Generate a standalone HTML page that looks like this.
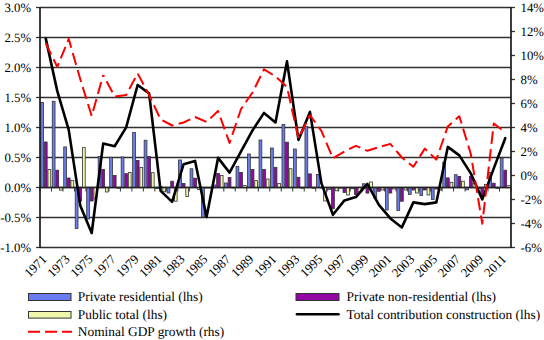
<!DOCTYPE html><html><head><meta charset="utf-8"><style>
html,body{margin:0;padding:0;background:#fff;}
svg{display:block;}
text{font-family:"Liberation Serif",serif;fill:#000;text-rendering:geometricPrecision;}
</style></head><body>
<svg width="544" height="340" viewBox="0 0 544 340">
<rect x="0" y="0" width="544" height="340" fill="#fff"/>
<line x1="40.0" y1="7.5" x2="511.0" y2="7.5" stroke="#303030" stroke-width="1.4"/>
<line x1="36" y1="7.5" x2="40.0" y2="7.5" stroke="#333" stroke-width="1.3"/>
<line x1="40.0" y1="37.5" x2="511.0" y2="37.5" stroke="#303030" stroke-width="1.4"/>
<line x1="36" y1="37.5" x2="40.0" y2="37.5" stroke="#333" stroke-width="1.3"/>
<line x1="40.0" y1="67.5" x2="511.0" y2="67.5" stroke="#303030" stroke-width="1.4"/>
<line x1="36" y1="67.5" x2="40.0" y2="67.5" stroke="#333" stroke-width="1.3"/>
<line x1="40.0" y1="97.5" x2="511.0" y2="97.5" stroke="#303030" stroke-width="1.4"/>
<line x1="36" y1="97.5" x2="40.0" y2="97.5" stroke="#333" stroke-width="1.3"/>
<line x1="40.0" y1="127.5" x2="511.0" y2="127.5" stroke="#303030" stroke-width="1.4"/>
<line x1="36" y1="127.5" x2="40.0" y2="127.5" stroke="#333" stroke-width="1.3"/>
<line x1="40.0" y1="157.5" x2="511.0" y2="157.5" stroke="#303030" stroke-width="1.4"/>
<line x1="36" y1="157.5" x2="40.0" y2="157.5" stroke="#333" stroke-width="1.3"/>
<line x1="40.0" y1="187.5" x2="511.0" y2="187.5" stroke="#303030" stroke-width="1.4"/>
<line x1="36" y1="187.5" x2="40.0" y2="187.5" stroke="#333" stroke-width="1.3"/>
<line x1="40.0" y1="217.5" x2="511.0" y2="217.5" stroke="#303030" stroke-width="1.4"/>
<line x1="36" y1="217.5" x2="40.0" y2="217.5" stroke="#333" stroke-width="1.3"/>
<line x1="40.0" y1="247.5" x2="511.0" y2="247.5" stroke="#303030" stroke-width="1.4"/>
<line x1="36" y1="247.5" x2="40.0" y2="247.5" stroke="#333" stroke-width="1.3"/>
<line x1="511.0" y1="7.5" x2="515" y2="7.5" stroke="#333" stroke-width="1.3"/>
<line x1="511.0" y1="31.5" x2="515" y2="31.5" stroke="#333" stroke-width="1.3"/>
<line x1="511.0" y1="55.5" x2="515" y2="55.5" stroke="#333" stroke-width="1.3"/>
<line x1="511.0" y1="79.5" x2="515" y2="79.5" stroke="#333" stroke-width="1.3"/>
<line x1="511.0" y1="103.5" x2="515" y2="103.5" stroke="#333" stroke-width="1.3"/>
<line x1="511.0" y1="127.5" x2="515" y2="127.5" stroke="#333" stroke-width="1.3"/>
<line x1="511.0" y1="151.5" x2="515" y2="151.5" stroke="#333" stroke-width="1.3"/>
<line x1="511.0" y1="175.5" x2="515" y2="175.5" stroke="#333" stroke-width="1.3"/>
<line x1="511.0" y1="199.5" x2="515" y2="199.5" stroke="#333" stroke-width="1.3"/>
<line x1="511.0" y1="223.5" x2="515" y2="223.5" stroke="#333" stroke-width="1.3"/>
<line x1="511.0" y1="247.5" x2="515" y2="247.5" stroke="#333" stroke-width="1.3"/>
<rect x="40.75" y="102.50" width="2.80" height="85.00" fill="#6a7cf2" stroke="#333333" stroke-width="0.8"/>
<rect x="44.35" y="142.00" width="2.80" height="45.50" fill="#9306a6" stroke="#333333" stroke-width="0.8"/>
<rect x="47.95" y="169.50" width="2.80" height="18.00" fill="#eff8aa" stroke="#333333" stroke-width="0.8"/>
<rect x="52.24" y="101.25" width="2.80" height="86.25" fill="#6a7cf2" stroke="#333333" stroke-width="0.8"/>
<rect x="55.84" y="170.20" width="2.80" height="17.30" fill="#9306a6" stroke="#333333" stroke-width="0.8"/>
<rect x="59.44" y="187.50" width="2.80" height="2.60" fill="#eff8aa" stroke="#333333" stroke-width="0.8"/>
<rect x="63.73" y="146.90" width="2.80" height="40.60" fill="#6a7cf2" stroke="#333333" stroke-width="0.8"/>
<rect x="67.33" y="178.00" width="2.80" height="9.50" fill="#9306a6" stroke="#333333" stroke-width="0.8"/>
<rect x="70.93" y="180.30" width="2.80" height="7.20" fill="#eff8aa" stroke="#333333" stroke-width="0.8"/>
<rect x="75.21" y="187.50" width="2.80" height="41.00" fill="#6a7cf2" stroke="#333333" stroke-width="0.8"/>
<rect x="78.81" y="187.50" width="2.80" height="13.50" fill="#9306a6" stroke="#333333" stroke-width="0.8"/>
<rect x="82.41" y="147.60" width="2.80" height="39.90" fill="#eff8aa" stroke="#333333" stroke-width="0.8"/>
<rect x="86.70" y="187.50" width="2.80" height="31.50" fill="#6a7cf2" stroke="#333333" stroke-width="0.8"/>
<rect x="90.30" y="187.50" width="2.80" height="13.50" fill="#9306a6" stroke="#333333" stroke-width="0.8"/>
<rect x="93.90" y="187.50" width="2.80" height="11.50" fill="#eff8aa" stroke="#333333" stroke-width="0.8"/>
<rect x="98.19" y="156.50" width="2.80" height="31.00" fill="#6a7cf2" stroke="#333333" stroke-width="0.8"/>
<rect x="101.79" y="169.50" width="2.80" height="18.00" fill="#9306a6" stroke="#333333" stroke-width="0.8"/>
<rect x="105.39" y="187.50" width="2.80" height="4.50" fill="#eff8aa" stroke="#333333" stroke-width="0.8"/>
<rect x="109.68" y="157.30" width="2.80" height="30.20" fill="#6a7cf2" stroke="#333333" stroke-width="0.8"/>
<rect x="113.28" y="175.50" width="2.80" height="12.00" fill="#9306a6" stroke="#333333" stroke-width="0.8"/>
<rect x="116.88" y="187.50" width="2.80" height="0.70" fill="#eff8aa" stroke="#333333" stroke-width="0.8"/>
<rect x="121.16" y="157.00" width="2.80" height="30.50" fill="#6a7cf2" stroke="#333333" stroke-width="0.8"/>
<rect x="124.76" y="173.70" width="2.80" height="13.80" fill="#9306a6" stroke="#333333" stroke-width="0.8"/>
<rect x="128.36" y="172.40" width="2.80" height="15.10" fill="#eff8aa" stroke="#333333" stroke-width="0.8"/>
<rect x="132.65" y="132.50" width="2.80" height="55.00" fill="#6a7cf2" stroke="#333333" stroke-width="0.8"/>
<rect x="136.25" y="160.50" width="2.80" height="27.00" fill="#9306a6" stroke="#333333" stroke-width="0.8"/>
<rect x="139.85" y="167.40" width="2.80" height="20.10" fill="#eff8aa" stroke="#333333" stroke-width="0.8"/>
<rect x="144.14" y="140.25" width="2.80" height="47.25" fill="#6a7cf2" stroke="#333333" stroke-width="0.8"/>
<rect x="147.74" y="156.50" width="2.80" height="31.00" fill="#9306a6" stroke="#333333" stroke-width="0.8"/>
<rect x="151.34" y="172.70" width="2.80" height="14.80" fill="#eff8aa" stroke="#333333" stroke-width="0.8"/>
<rect x="155.63" y="187.50" width="2.80" height="1.00" fill="#6a7cf2" stroke="#333333" stroke-width="0.8"/>
<rect x="159.23" y="186.50" width="2.80" height="1.00" fill="#9306a6" stroke="#333333" stroke-width="0.8"/>
<rect x="162.83" y="187.50" width="2.80" height="4.30" fill="#eff8aa" stroke="#333333" stroke-width="0.8"/>
<rect x="167.12" y="187.50" width="2.80" height="5.50" fill="#6a7cf2" stroke="#333333" stroke-width="0.8"/>
<rect x="170.72" y="181.20" width="2.80" height="6.30" fill="#9306a6" stroke="#333333" stroke-width="0.8"/>
<rect x="174.32" y="187.50" width="2.80" height="13.70" fill="#eff8aa" stroke="#333333" stroke-width="0.8"/>
<rect x="178.60" y="160.00" width="2.80" height="27.50" fill="#6a7cf2" stroke="#333333" stroke-width="0.8"/>
<rect x="182.20" y="183.50" width="2.80" height="4.00" fill="#9306a6" stroke="#333333" stroke-width="0.8"/>
<rect x="185.80" y="187.50" width="2.80" height="8.90" fill="#eff8aa" stroke="#333333" stroke-width="0.8"/>
<rect x="190.09" y="168.75" width="2.80" height="18.75" fill="#6a7cf2" stroke="#333333" stroke-width="0.8"/>
<rect x="193.69" y="178.20" width="2.80" height="9.30" fill="#9306a6" stroke="#333333" stroke-width="0.8"/>
<rect x="197.29" y="187.50" width="2.80" height="2.00" fill="#eff8aa" stroke="#333333" stroke-width="0.8"/>
<rect x="201.58" y="187.50" width="2.80" height="29.50" fill="#6a7cf2" stroke="#333333" stroke-width="0.8"/>
<rect x="205.18" y="187.50" width="2.80" height="0.50" fill="#9306a6" stroke="#333333" stroke-width="0.8"/>
<rect x="208.78" y="187.50" width="2.80" height="0.50" fill="#eff8aa" stroke="#333333" stroke-width="0.8"/>
<rect x="213.07" y="185.00" width="2.80" height="2.50" fill="#6a7cf2" stroke="#333333" stroke-width="0.8"/>
<rect x="216.67" y="173.50" width="2.80" height="14.00" fill="#9306a6" stroke="#333333" stroke-width="0.8"/>
<rect x="220.27" y="175.50" width="2.80" height="12.00" fill="#eff8aa" stroke="#333333" stroke-width="0.8"/>
<rect x="224.55" y="183.00" width="2.80" height="4.50" fill="#6a7cf2" stroke="#333333" stroke-width="0.8"/>
<rect x="228.15" y="177.50" width="2.80" height="10.00" fill="#9306a6" stroke="#333333" stroke-width="0.8"/>
<rect x="231.75" y="187.50" width="2.80" height="0.50" fill="#eff8aa" stroke="#333333" stroke-width="0.8"/>
<rect x="236.04" y="166.50" width="2.80" height="21.00" fill="#6a7cf2" stroke="#333333" stroke-width="0.8"/>
<rect x="239.64" y="172.50" width="2.80" height="15.00" fill="#9306a6" stroke="#333333" stroke-width="0.8"/>
<rect x="243.24" y="185.60" width="2.80" height="1.90" fill="#eff8aa" stroke="#333333" stroke-width="0.8"/>
<rect x="247.53" y="154.00" width="2.80" height="33.50" fill="#6a7cf2" stroke="#333333" stroke-width="0.8"/>
<rect x="251.13" y="169.40" width="2.80" height="18.10" fill="#9306a6" stroke="#333333" stroke-width="0.8"/>
<rect x="254.73" y="180.60" width="2.80" height="6.90" fill="#eff8aa" stroke="#333333" stroke-width="0.8"/>
<rect x="259.02" y="140.00" width="2.80" height="47.50" fill="#6a7cf2" stroke="#333333" stroke-width="0.8"/>
<rect x="262.62" y="169.40" width="2.80" height="18.10" fill="#9306a6" stroke="#333333" stroke-width="0.8"/>
<rect x="266.22" y="179.00" width="2.80" height="8.50" fill="#eff8aa" stroke="#333333" stroke-width="0.8"/>
<rect x="270.51" y="148.00" width="2.80" height="39.50" fill="#6a7cf2" stroke="#333333" stroke-width="0.8"/>
<rect x="274.11" y="167.30" width="2.80" height="20.20" fill="#9306a6" stroke="#333333" stroke-width="0.8"/>
<rect x="277.71" y="183.40" width="2.80" height="4.10" fill="#eff8aa" stroke="#333333" stroke-width="0.8"/>
<rect x="281.99" y="124.50" width="2.80" height="63.00" fill="#6a7cf2" stroke="#333333" stroke-width="0.8"/>
<rect x="285.59" y="142.20" width="2.80" height="45.30" fill="#9306a6" stroke="#333333" stroke-width="0.8"/>
<rect x="289.19" y="168.70" width="2.80" height="18.80" fill="#eff8aa" stroke="#333333" stroke-width="0.8"/>
<rect x="293.48" y="149.00" width="2.80" height="38.50" fill="#6a7cf2" stroke="#333333" stroke-width="0.8"/>
<rect x="297.08" y="177.30" width="2.80" height="10.20" fill="#9306a6" stroke="#333333" stroke-width="0.8"/>
<rect x="300.68" y="187.50" width="2.80" height="0.70" fill="#eff8aa" stroke="#333333" stroke-width="0.8"/>
<rect x="304.97" y="126.50" width="2.80" height="61.00" fill="#6a7cf2" stroke="#333333" stroke-width="0.8"/>
<rect x="308.57" y="173.90" width="2.80" height="13.60" fill="#9306a6" stroke="#333333" stroke-width="0.8"/>
<rect x="312.17" y="187.50" width="2.80" height="0.70" fill="#eff8aa" stroke="#333333" stroke-width="0.8"/>
<rect x="316.46" y="174.50" width="2.80" height="13.00" fill="#6a7cf2" stroke="#333333" stroke-width="0.8"/>
<rect x="320.06" y="187.50" width="2.80" height="0.50" fill="#9306a6" stroke="#333333" stroke-width="0.8"/>
<rect x="323.66" y="187.50" width="2.80" height="13.50" fill="#eff8aa" stroke="#333333" stroke-width="0.8"/>
<rect x="327.95" y="187.50" width="2.80" height="1.90" fill="#6a7cf2" stroke="#333333" stroke-width="0.8"/>
<rect x="331.55" y="187.50" width="2.80" height="21.25" fill="#9306a6" stroke="#333333" stroke-width="0.8"/>
<rect x="335.15" y="187.50" width="2.80" height="3.30" fill="#eff8aa" stroke="#333333" stroke-width="0.8"/>
<rect x="339.43" y="187.50" width="2.80" height="0.60" fill="#6a7cf2" stroke="#333333" stroke-width="0.8"/>
<rect x="343.03" y="187.50" width="2.80" height="5.00" fill="#9306a6" stroke="#333333" stroke-width="0.8"/>
<rect x="346.63" y="187.50" width="2.80" height="7.50" fill="#eff8aa" stroke="#333333" stroke-width="0.8"/>
<rect x="350.92" y="187.50" width="2.80" height="1.25" fill="#6a7cf2" stroke="#333333" stroke-width="0.8"/>
<rect x="354.52" y="187.50" width="2.80" height="6.90" fill="#9306a6" stroke="#333333" stroke-width="0.8"/>
<rect x="358.12" y="187.50" width="2.80" height="4.50" fill="#eff8aa" stroke="#333333" stroke-width="0.8"/>
<rect x="362.41" y="183.75" width="2.80" height="3.75" fill="#6a7cf2" stroke="#333333" stroke-width="0.8"/>
<rect x="366.01" y="187.50" width="2.80" height="5.60" fill="#9306a6" stroke="#333333" stroke-width="0.8"/>
<rect x="369.61" y="182.00" width="2.80" height="5.50" fill="#eff8aa" stroke="#333333" stroke-width="0.8"/>
<rect x="373.90" y="187.50" width="2.80" height="10.50" fill="#6a7cf2" stroke="#333333" stroke-width="0.8"/>
<rect x="377.50" y="187.50" width="2.80" height="3.75" fill="#9306a6" stroke="#333333" stroke-width="0.8"/>
<rect x="381.10" y="187.50" width="2.80" height="2.50" fill="#eff8aa" stroke="#333333" stroke-width="0.8"/>
<rect x="385.38" y="187.50" width="2.80" height="22.50" fill="#6a7cf2" stroke="#333333" stroke-width="0.8"/>
<rect x="388.98" y="187.50" width="2.80" height="5.50" fill="#9306a6" stroke="#333333" stroke-width="0.8"/>
<rect x="392.58" y="187.50" width="2.80" height="1.50" fill="#eff8aa" stroke="#333333" stroke-width="0.8"/>
<rect x="396.87" y="187.50" width="2.80" height="23.00" fill="#6a7cf2" stroke="#333333" stroke-width="0.8"/>
<rect x="400.47" y="187.50" width="2.80" height="13.75" fill="#9306a6" stroke="#333333" stroke-width="0.8"/>
<rect x="404.07" y="187.50" width="2.80" height="2.50" fill="#eff8aa" stroke="#333333" stroke-width="0.8"/>
<rect x="408.36" y="187.50" width="2.80" height="7.00" fill="#6a7cf2" stroke="#333333" stroke-width="0.8"/>
<rect x="411.96" y="187.50" width="2.80" height="2.50" fill="#9306a6" stroke="#333333" stroke-width="0.8"/>
<rect x="415.56" y="187.50" width="2.80" height="5.50" fill="#eff8aa" stroke="#333333" stroke-width="0.8"/>
<rect x="419.85" y="187.50" width="2.80" height="8.00" fill="#6a7cf2" stroke="#333333" stroke-width="0.8"/>
<rect x="423.45" y="187.50" width="2.80" height="2.50" fill="#9306a6" stroke="#333333" stroke-width="0.8"/>
<rect x="427.05" y="187.50" width="2.80" height="7.50" fill="#eff8aa" stroke="#333333" stroke-width="0.8"/>
<rect x="431.34" y="187.50" width="2.80" height="12.00" fill="#6a7cf2" stroke="#333333" stroke-width="0.8"/>
<rect x="434.94" y="187.50" width="2.80" height="1.50" fill="#9306a6" stroke="#333333" stroke-width="0.8"/>
<rect x="438.54" y="187.50" width="2.80" height="2.50" fill="#eff8aa" stroke="#333333" stroke-width="0.8"/>
<rect x="442.82" y="162.00" width="2.80" height="25.50" fill="#6a7cf2" stroke="#333333" stroke-width="0.8"/>
<rect x="446.42" y="177.90" width="2.80" height="9.60" fill="#9306a6" stroke="#333333" stroke-width="0.8"/>
<rect x="450.02" y="182.30" width="2.80" height="5.20" fill="#eff8aa" stroke="#333333" stroke-width="0.8"/>
<rect x="454.31" y="174.70" width="2.80" height="12.80" fill="#6a7cf2" stroke="#333333" stroke-width="0.8"/>
<rect x="457.91" y="176.40" width="2.80" height="11.10" fill="#9306a6" stroke="#333333" stroke-width="0.8"/>
<rect x="461.51" y="181.20" width="2.80" height="6.30" fill="#eff8aa" stroke="#333333" stroke-width="0.8"/>
<rect x="465.80" y="187.50" width="2.80" height="2.30" fill="#6a7cf2" stroke="#333333" stroke-width="0.8"/>
<rect x="469.40" y="176.50" width="2.80" height="11.00" fill="#9306a6" stroke="#333333" stroke-width="0.8"/>
<rect x="473.00" y="183.20" width="2.80" height="4.30" fill="#eff8aa" stroke="#333333" stroke-width="0.8"/>
<rect x="477.29" y="187.50" width="2.80" height="1.00" fill="#6a7cf2" stroke="#333333" stroke-width="0.8"/>
<rect x="480.89" y="187.50" width="2.80" height="8.00" fill="#9306a6" stroke="#333333" stroke-width="0.8"/>
<rect x="484.49" y="184.50" width="2.80" height="3.00" fill="#eff8aa" stroke="#333333" stroke-width="0.8"/>
<rect x="488.77" y="172.60" width="2.80" height="14.90" fill="#6a7cf2" stroke="#333333" stroke-width="0.8"/>
<rect x="492.37" y="183.20" width="2.80" height="4.30" fill="#9306a6" stroke="#333333" stroke-width="0.8"/>
<rect x="495.97" y="187.50" width="2.80" height="1.00" fill="#eff8aa" stroke="#333333" stroke-width="0.8"/>
<rect x="500.26" y="158.00" width="2.80" height="29.50" fill="#6a7cf2" stroke="#333333" stroke-width="0.8"/>
<rect x="503.86" y="170.20" width="2.80" height="17.30" fill="#9306a6" stroke="#333333" stroke-width="0.8"/>
<rect x="507.46" y="185.60" width="2.80" height="1.90" fill="#eff8aa" stroke="#333333" stroke-width="0.8"/>
<line x1="40.0" y1="187.5" x2="511.0" y2="187.5" stroke="#222" stroke-width="1.4"/>
<line x1="40.00" y1="187.5" x2="40.00" y2="191.5" stroke="#333" stroke-width="1"/>
<line x1="51.49" y1="187.5" x2="51.49" y2="191.5" stroke="#333" stroke-width="1"/>
<line x1="62.98" y1="187.5" x2="62.98" y2="191.5" stroke="#333" stroke-width="1"/>
<line x1="74.46" y1="187.5" x2="74.46" y2="191.5" stroke="#333" stroke-width="1"/>
<line x1="85.95" y1="187.5" x2="85.95" y2="191.5" stroke="#333" stroke-width="1"/>
<line x1="97.44" y1="187.5" x2="97.44" y2="191.5" stroke="#333" stroke-width="1"/>
<line x1="108.93" y1="187.5" x2="108.93" y2="191.5" stroke="#333" stroke-width="1"/>
<line x1="120.41" y1="187.5" x2="120.41" y2="191.5" stroke="#333" stroke-width="1"/>
<line x1="131.90" y1="187.5" x2="131.90" y2="191.5" stroke="#333" stroke-width="1"/>
<line x1="143.39" y1="187.5" x2="143.39" y2="191.5" stroke="#333" stroke-width="1"/>
<line x1="154.88" y1="187.5" x2="154.88" y2="191.5" stroke="#333" stroke-width="1"/>
<line x1="166.37" y1="187.5" x2="166.37" y2="191.5" stroke="#333" stroke-width="1"/>
<line x1="177.85" y1="187.5" x2="177.85" y2="191.5" stroke="#333" stroke-width="1"/>
<line x1="189.34" y1="187.5" x2="189.34" y2="191.5" stroke="#333" stroke-width="1"/>
<line x1="200.83" y1="187.5" x2="200.83" y2="191.5" stroke="#333" stroke-width="1"/>
<line x1="212.32" y1="187.5" x2="212.32" y2="191.5" stroke="#333" stroke-width="1"/>
<line x1="223.80" y1="187.5" x2="223.80" y2="191.5" stroke="#333" stroke-width="1"/>
<line x1="235.29" y1="187.5" x2="235.29" y2="191.5" stroke="#333" stroke-width="1"/>
<line x1="246.78" y1="187.5" x2="246.78" y2="191.5" stroke="#333" stroke-width="1"/>
<line x1="258.27" y1="187.5" x2="258.27" y2="191.5" stroke="#333" stroke-width="1"/>
<line x1="269.76" y1="187.5" x2="269.76" y2="191.5" stroke="#333" stroke-width="1"/>
<line x1="281.24" y1="187.5" x2="281.24" y2="191.5" stroke="#333" stroke-width="1"/>
<line x1="292.73" y1="187.5" x2="292.73" y2="191.5" stroke="#333" stroke-width="1"/>
<line x1="304.22" y1="187.5" x2="304.22" y2="191.5" stroke="#333" stroke-width="1"/>
<line x1="315.71" y1="187.5" x2="315.71" y2="191.5" stroke="#333" stroke-width="1"/>
<line x1="327.20" y1="187.5" x2="327.20" y2="191.5" stroke="#333" stroke-width="1"/>
<line x1="338.68" y1="187.5" x2="338.68" y2="191.5" stroke="#333" stroke-width="1"/>
<line x1="350.17" y1="187.5" x2="350.17" y2="191.5" stroke="#333" stroke-width="1"/>
<line x1="361.66" y1="187.5" x2="361.66" y2="191.5" stroke="#333" stroke-width="1"/>
<line x1="373.15" y1="187.5" x2="373.15" y2="191.5" stroke="#333" stroke-width="1"/>
<line x1="384.63" y1="187.5" x2="384.63" y2="191.5" stroke="#333" stroke-width="1"/>
<line x1="396.12" y1="187.5" x2="396.12" y2="191.5" stroke="#333" stroke-width="1"/>
<line x1="407.61" y1="187.5" x2="407.61" y2="191.5" stroke="#333" stroke-width="1"/>
<line x1="419.10" y1="187.5" x2="419.10" y2="191.5" stroke="#333" stroke-width="1"/>
<line x1="430.59" y1="187.5" x2="430.59" y2="191.5" stroke="#333" stroke-width="1"/>
<line x1="442.07" y1="187.5" x2="442.07" y2="191.5" stroke="#333" stroke-width="1"/>
<line x1="453.56" y1="187.5" x2="453.56" y2="191.5" stroke="#333" stroke-width="1"/>
<line x1="465.05" y1="187.5" x2="465.05" y2="191.5" stroke="#333" stroke-width="1"/>
<line x1="476.54" y1="187.5" x2="476.54" y2="191.5" stroke="#333" stroke-width="1"/>
<line x1="488.02" y1="187.5" x2="488.02" y2="191.5" stroke="#333" stroke-width="1"/>
<line x1="499.51" y1="187.5" x2="499.51" y2="191.5" stroke="#333" stroke-width="1"/>
<line x1="511.00" y1="187.5" x2="511.00" y2="191.5" stroke="#333" stroke-width="1"/>
<line x1="40.0" y1="7" x2="40.0" y2="248" stroke="#1a1a1a" stroke-width="1.7"/>
<line x1="511.0" y1="7" x2="511.0" y2="248" stroke="#1a1a1a" stroke-width="1.7"/>
<polyline points="45.74,38.40 57.23,90.90 68.72,129.90 80.21,205.40 91.70,233.00 103.18,143.60 114.67,146.20 126.16,127.40 137.65,85.00 149.13,93.40 160.62,190.90 172.11,201.90 183.60,164.15 195.09,160.90 206.57,216.90 218.06,157.90 229.55,172.60 241.04,151.40 252.52,130.40 264.01,112.90 275.50,122.40 286.99,61.40 298.48,139.90 309.96,111.90 321.45,183.40 332.94,214.80 344.43,200.40 355.91,197.10 367.40,183.90 378.89,204.90 390.38,218.40 401.87,227.40 413.35,202.40 424.84,204.15 436.33,202.40 447.82,146.90 459.30,155.40 470.79,173.40 482.28,199.40 493.77,168.40 505.26,138.20" fill="none" stroke="#000" stroke-width="2.6" stroke-linejoin="round" stroke-linecap="round"/>
<polyline points="45.74,43.30 57.23,66.90 68.72,38.90 80.21,79.00 91.70,116.00 103.18,75.00" fill="none" stroke="#ff0000" stroke-width="2" stroke-dasharray="12.45 5.32" stroke-dashoffset="0" stroke-linejoin="round"/>
<polyline points="103.18,75.00 114.67,96.50 126.16,95.00 137.65,73.50 149.13,95.00 160.62,119.50 172.11,125.50 183.60,122.50 195.09,117.00 206.57,122.00 218.06,111.00 229.55,143.00 241.04,109.00 252.52,92.50 264.01,69.30 275.50,76.50 286.99,87.00 298.48,138.50 309.96,115.20 321.45,131.00 332.94,158.30 344.43,151.50 355.91,145.80 367.40,150.80 378.89,147.20 390.38,143.90 401.87,157.50 413.35,166.80 424.84,148.60 436.33,159.60 447.82,126.40 459.30,116.20 470.79,154.00 482.28,223.75 493.77,123.50 505.26,132.50" fill="none" stroke="#ff0000" stroke-width="2" stroke-dasharray="12.45 5.32" stroke-dashoffset="10.62" stroke-linejoin="round"/>
<text x="31.1" y="11.9" font-size="12.8" text-anchor="end">3.0%</text>
<text x="31.1" y="41.9" font-size="12.8" text-anchor="end">2.5%</text>
<text x="31.1" y="71.9" font-size="12.8" text-anchor="end">2.0%</text>
<text x="31.1" y="101.9" font-size="12.8" text-anchor="end">1.5%</text>
<text x="31.1" y="131.9" font-size="12.8" text-anchor="end">1.0%</text>
<text x="31.1" y="161.9" font-size="12.8" text-anchor="end">0.5%</text>
<text x="31.1" y="191.9" font-size="12.8" text-anchor="end">0.0%</text>
<text x="31.1" y="221.9" font-size="12.8" text-anchor="end">-0.5%</text>
<text x="31.1" y="251.9" font-size="12.8" text-anchor="end">-1.0%</text>
<text x="520.5" y="11.9" font-size="12.8">14%</text>
<text x="520.5" y="35.9" font-size="12.8">12%</text>
<text x="520.5" y="59.9" font-size="12.8">10%</text>
<text x="520.5" y="83.9" font-size="12.8">8%</text>
<text x="520.5" y="107.9" font-size="12.8">6%</text>
<text x="520.5" y="131.9" font-size="12.8">4%</text>
<text x="520.5" y="155.9" font-size="12.8">2%</text>
<text x="520.5" y="179.9" font-size="12.8">0%</text>
<text x="520.5" y="203.9" font-size="12.8">-2%</text>
<text x="520.5" y="227.9" font-size="12.8">-4%</text>
<text x="520.5" y="251.9" font-size="12.8">-6%</text>
<text font-size="12.8" text-anchor="end" transform="translate(47.54,260) rotate(-45)">1971</text>
<text font-size="12.8" text-anchor="end" transform="translate(70.52,260) rotate(-45)">1973</text>
<text font-size="12.8" text-anchor="end" transform="translate(93.50,260) rotate(-45)">1975</text>
<text font-size="12.8" text-anchor="end" transform="translate(116.47,260) rotate(-45)">1977</text>
<text font-size="12.8" text-anchor="end" transform="translate(139.45,260) rotate(-45)">1979</text>
<text font-size="12.8" text-anchor="end" transform="translate(162.42,260) rotate(-45)">1981</text>
<text font-size="12.8" text-anchor="end" transform="translate(185.40,260) rotate(-45)">1983</text>
<text font-size="12.8" text-anchor="end" transform="translate(208.37,260) rotate(-45)">1985</text>
<text font-size="12.8" text-anchor="end" transform="translate(231.35,260) rotate(-45)">1987</text>
<text font-size="12.8" text-anchor="end" transform="translate(254.32,260) rotate(-45)">1989</text>
<text font-size="12.8" text-anchor="end" transform="translate(277.30,260) rotate(-45)">1991</text>
<text font-size="12.8" text-anchor="end" transform="translate(300.28,260) rotate(-45)">1993</text>
<text font-size="12.8" text-anchor="end" transform="translate(323.25,260) rotate(-45)">1995</text>
<text font-size="12.8" text-anchor="end" transform="translate(346.23,260) rotate(-45)">1997</text>
<text font-size="12.8" text-anchor="end" transform="translate(369.20,260) rotate(-45)">1999</text>
<text font-size="12.8" text-anchor="end" transform="translate(392.18,260) rotate(-45)">2001</text>
<text font-size="12.8" text-anchor="end" transform="translate(415.15,260) rotate(-45)">2003</text>
<text font-size="12.8" text-anchor="end" transform="translate(438.13,260) rotate(-45)">2005</text>
<text font-size="12.8" text-anchor="end" transform="translate(461.10,260) rotate(-45)">2007</text>
<text font-size="12.8" text-anchor="end" transform="translate(484.08,260) rotate(-45)">2009</text>
<text font-size="12.8" text-anchor="end" transform="translate(507.06,260) rotate(-45)">2011</text>
<rect x="28.5" y="293.5" width="42.5" height="7" fill="#6a7cf2" stroke="#333333" stroke-width="1"/>
<rect x="28.5" y="311.5" width="42.5" height="6.6" fill="#eff8aa" stroke="#333333" stroke-width="1"/>
<line x1="28" y1="331.7" x2="72" y2="331.7" stroke="#ff0000" stroke-width="2" stroke-dasharray="12 5"/>
<rect x="296" y="293.5" width="43" height="7" fill="#9306a6" stroke="#333333" stroke-width="1"/>
<line x1="297" y1="314.3" x2="338.5" y2="314.3" stroke="#000" stroke-width="2.6" stroke-linecap="round"/>
<text x="77.8" y="301" font-size="13.4">Private residential (lhs)</text>
<text x="77.8" y="318.6" font-size="13.4">Public total (lhs)</text>
<text x="77.8" y="335.9" font-size="13.4">Nominal GDP growth (rhs)</text>
<text x="346.6" y="301" font-size="13.4">Private non-residential (lhs)</text>
<text x="346.6" y="318.6" font-size="13.4">Total contribution construction (lhs)</text>
</svg></body></html>
